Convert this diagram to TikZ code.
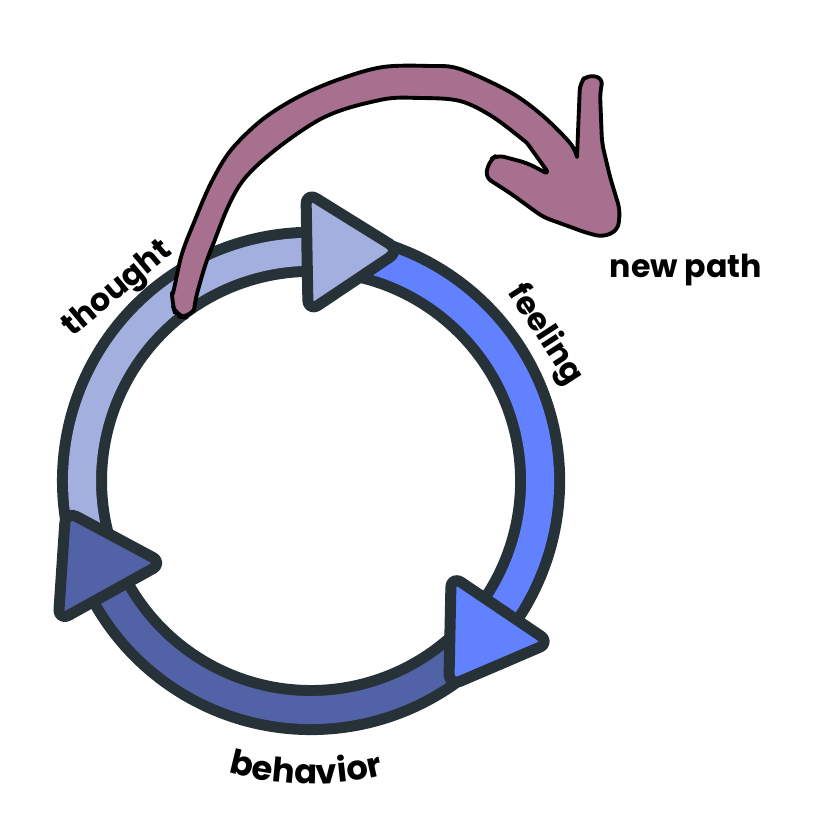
\documentclass[tikz,border=0pt]{standalone}
\usepackage{fontspec}
\setmainfont{Poppins}
\usepackage{tikz}
\usetikzlibrary{calc,decorations.text}

\definecolor{ringdark}{HTML}{263238}
\definecolor{thoughtblue}{HTML}{A3AFDF}
\definecolor{feelingblue}{HTML}{6181FF}
\definecolor{behaviorblue}{HTML}{5262A6}
\definecolor{pathmauve}{HTML}{A6708E}

\newcommand{\lblfont}{\bfseries\fontsize{9}{11}\selectfont}

\tikzset{
  band/.style={draw=ringdark, line width=0.11cm, double distance=0.28cm},
  headtri/.style={draw=ringdark, line width=0.11cm, line join=round, rounded corners=3.5pt},
  lbl/.style={font=\lblfont, inner sep=0pt},
}

% arrow head on the ring: angle, fill colour
\newcommand{\cyclehead}[2]{%
  \filldraw[headtri, fill=#2] ($(C)+(#1:289)$) -- ($(C)+(#1:169)$)
    -- ($(C)+(#1:229)+({#1-90}:93)$) -- cycle;
}

\begin{document}
\begin{tikzpicture}[x=0.01cm, y=0.01cm]
  \useasboundingbox (0,0) rectangle (830,-840);
  \coordinate (C) at (311,-481);

  % ring segments
  \draw[band, double=thoughtblue] ($(C)+(200:229)$) arc[start angle=200, end angle=87, radius=2.29cm];
  \draw[band, double=feelingblue] ($(C)+(85:229)$) arc[start angle=85, end angle=-38, radius=2.29cm];
  \draw[band, double=behaviorblue] ($(C)+(-42:229)$) arc[start angle=-42, end angle=-154, radius=2.29cm];

  % arrow heads
  \cyclehead{91}{thoughtblue}
  \cyclehead{-34}{feelingblue}
  \cyclehead{-151}{behaviorblue}

  % the new path arrow
  \filldraw[fill=pathmauve, draw=black, line width=1.1pt, line join=round]
    plot[smooth, tension=0.55] coordinates {(172,-303) (181,-257) (195,-220) (211,-183) (231,-150) (263,-119) (300,-96) (340,-79) (383,-67) (430,-66) (460,-69) (510,-92) (543,-116) (570,-143) (577,-157)}
    [rounded corners=2pt] -- (580,-83) -- (587,-75) -- (603,-78) -- (600,-93) -- (602,-143) -- (610,-177) -- (620,-210) -- (618,-230) -- (603,-237) -- (587,-233) -- (543,-217) -- (510,-193) -- (485,-177) -- (490,-160) -- (497,-155) -- (527,-163) -- (550,-175)
    [sharp corners] -- plot[smooth, tension=0.55] coordinates {(527,-143) (493,-117) (460,-101) (420,-98) (380,-100) (317,-121) (245,-178) (212,-247) (198,-290) (194,-310)}
    [rounded corners=3pt] -- (189,-318) -- (176,-316) -- cycle;

  % labels
  \node[lbl, rotate=40] (thought) at (118,-290) {thought};
  \node[lbl, rotate=-57] (feeling) at (545,-335) {feeling};
  \node[lbl] (newpath) at (686,-270) {new path};
  \coordinate (bstart) at ($(C)+(-125:303)$);
  \path[decorate, decoration={text along path, text align=center,
      text={|\bfseries\fontsize{9.6}{11}\selectfont|behavior}}]
    (bstart) arc[start angle=-125, end angle=-57, radius=3.03cm];
\end{tikzpicture}
\end{document}
